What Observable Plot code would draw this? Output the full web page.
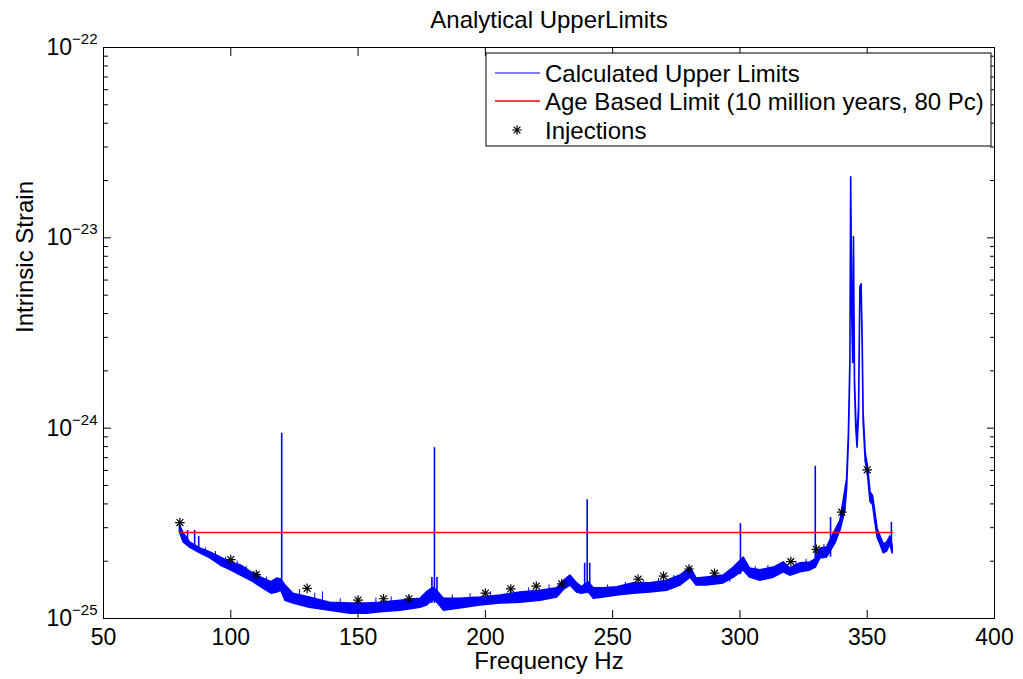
<!DOCTYPE html>
<html><head><meta charset="utf-8">
<script src="https://cdn.jsdelivr.net/npm/d3@7"></script>
<script src="https://cdn.jsdelivr.net/npm/@observablehq/plot@0.6"></script>
<style>
body{margin:0;background:#fff;}
#chart{width:1023px;height:679px;}
</style>
</head><body><div id="chart"></div>
<script>
// ---- data (strain values in units of 1e-25) ----
const UNIT = 1e-25;
const freq = [80,81.5,84,88,92,96,100,104,108,112,116,118.2,119.8,121.5,124.6,131,139,147,153.6,158.8,166.7,174.5,177,179.5,181,183.7,190,198,206,213.8,221.7,228.2,231,233.4,236,238,240.5,242.6,246.5,251.8,258.3,264.8,271.4,276.6,280.6,283,287,293.6,297.6,301.5,304,308,313.3,317.2,319.8,323.8,327.7,329.8,331.6,334.2,337.5,339.5,341.4,342.1,342.8,343.4,343.7,344.1,344.5,344.8,345.2,345.7,346.2,346.8,347.3,347.8,348.2,348.6,349.4,350.3,351.3,352.3,353.2,354.1,355.2,356.5,357.8,359.1,360];
const upperHi = [3.08,2.80,2.51,2.33,2.22,2.09,1.97,1.90,1.75,1.64,1.55,1.62,1.60,1.49,1.35,1.29,1.21,1.20,1.20,1.21,1.24,1.27,1.37,1.45,1.40,1.27,1.27,1.29,1.32,1.37,1.40,1.44,1.58,1.68,1.53,1.46,1.55,1.44,1.44,1.46,1.53,1.53,1.58,1.68,1.85,1.62,1.64,1.68,1.85,2.09,1.83,1.79,1.85,1.97,1.83,1.95,1.97,2.05,2.33,2.36,2.90,3.27,4.7,5.4,9.3,23,208,45,25,101,18,11.2,8.8,13,55,57,30,12,7.4,6.3,4.6,4.4,3.6,2.95,2.7,2.45,2.5,2.7,2.4];
const upperLo = [2.85,2.51,2.36,2.20,2.07,1.90,1.79,1.68,1.58,1.46,1.35,1.37,1.40,1.24,1.20,1.14,1.10,1.06,1.06,1.08,1.10,1.14,1.17,1.25,1.22,1.10,1.13,1.17,1.20,1.21,1.24,1.29,1.42,1.49,1.37,1.35,1.38,1.27,1.29,1.32,1.35,1.37,1.40,1.49,1.64,1.49,1.49,1.53,1.64,1.79,1.64,1.58,1.64,1.75,1.68,1.75,1.79,1.85,2.07,2.09,2.48,2.90,3.69,4.8,8.5,21,200,41,22,97,16.5,10.0,7.9,11.8,51,53,28,10.8,6.7,5.7,4.1,3.95,3.2,2.65,2.45,2.2,2.25,2.45,2.2];
// narrow line features (frequency, foot, top)
const spikeFreq = [83,85.8,87.4,120,179,180,181,239,240,241,299.5,300.2,329.6,335.6,359.5];
const spikeBase = [2.4,2.3,2.2,1.4,1.2,1.2,1.2,1.35,1.35,1.35,1.7,1.7,1.85,2.1,2.3];
const spikeTop  = [2.9,2.9,2.7,9.4,1.64,7.9,1.64,1.95,4.2,1.95,1.95,3.15,6.3,3.39,3.2];
// small noise spikes on the band
const noiseFreq = [90,94,98,102.5,106,110.5,114,127,133,136,143,150,157,163,170,187,194,202,210,217,225,248,255,262,268,274,290,296,306,311,322,326,333];
const noiseBase = [2.15,2.05,1.9,1.8,1.7,1.55,1.45,1.22,1.16,1.15,1.1,1.08,1.1,1.1,1.12,1.15,1.18,1.2,1.22,1.25,1.3,1.3,1.35,1.38,1.4,1.45,1.5,1.55,1.62,1.62,1.75,1.78,2.1];
const noiseTop  = [2.35,2.25,2.1,2.0,1.88,1.75,1.65,1.42,1.36,1.38,1.27,1.27,1.28,1.3,1.32,1.33,1.35,1.38,1.42,1.45,1.5,1.5,1.55,1.6,1.62,1.68,1.72,1.78,1.88,1.9,2.0,2.05,2.45];
// injections
const injFreq = [80,100,110,130,150,160,170,200,210,220,230,260,270,280,290,320,330,340,350];
const injStrain = [3.19,2.04,1.70,1.44,1.25,1.27,1.27,1.36,1.43,1.48,1.52,1.61,1.67,1.82,1.73,1.99,2.31,3.62,6.04];
// age based limit
const ageFreq = [80,360];
const ageStrain = [2.83,2.83];
// axes
const xTicks = [50,100,150,200,250,300,350,400];
const yDecades = [-25,-24,-23,-22];
const yMinorMult = [2,3,4,5,6,7,8,9];
const titleText = "Analytical UpperLimits";
const xLabel = "Frequency Hz";
const yLabel = "Intrinsic Strain";
const legendLabels = ["Calculated Upper Limits","Age Based Limit (10 million years, 80 Pc)","Injections"];

// ---- build tables ----
const band = freq.map((f,i)=>({f, hi: upperHi[i]*UNIT, lo: upperLo[i]*UNIT}));
const spikes = spikeFreq.map((f,i)=>({f, base: spikeBase[i]*UNIT, top: spikeTop[i]*UNIT}));
const noise = noiseFreq.map((f,i)=>({f, base: noiseBase[i]*UNIT, top: noiseTop[i]*UNIT}));
const inj = injFreq.map((f,i)=>({f, v: injStrain[i]*UNIT}));
const age = ageFreq.map((f,i)=>({f, v: ageStrain[i]*UNIT}));
const yMajor = yDecades.map(e => Math.pow(10, e));
const yMinor = yDecades.slice(0,-1).flatMap(e => yMinorMult.map(m => m*Math.pow(10,e)));

const BLUE = "#0000ff", RED = "#ff0000";
const FONT = "'Liberation Sans', Arial, Helvetica, sans-serif";

const chart = Plot.plot({
  width: 1023, height: 679,
  marginLeft: 103, marginRight: 29, marginTop: 47, marginBottom: 61,
  style: {fontFamily: FONT, fontSize: "23px", color: "#000", background: "#fff", overflow: "visible"},
  x: {domain: [50, 400]},
  y: {type: "log", domain: [1e-25, 1e-22]},
  marks: [
    Plot.areaY(band, {x: "f", y1: "lo", y2: "hi", fill: BLUE, stroke: BLUE, strokeWidth: 1.6}),
    Plot.ruleX(noise, {x: "f", y1: "base", y2: "top", stroke: BLUE, strokeWidth: 1}),
    Plot.ruleX(spikes, {x: "f", y1: "base", y2: "top", stroke: BLUE, strokeWidth: 1.6}),
    Plot.line(age, {x: "f", y: "v", stroke: RED, strokeWidth: 1.5}),
    Plot.dot(inj, {x: "f", y: "v", symbol: "plus", r: 3.2, stroke: "#000", strokeWidth: 1.2}),
    Plot.dot(inj, {x: "f", y: "v", symbol: "times", r: 3.2, stroke: "#000", strokeWidth: 1.2}),
    Plot.frame({stroke: "#000", strokeWidth: 1}),
    Plot.axisX(xTicks, {anchor: "bottom", tickSize: -8, tickPadding: 18, tickFormat: d => String(d), label: null}),
    Plot.axisX(xTicks, {anchor: "top", tickSize: -8, tickFormat: () => "", label: null}),
    Plot.axisY(yMajor, {anchor: "left", tickSize: -8, tickPadding: 14, tickFormat: d => "\u2212" + String(Math.round(-Math.log10(d))), label: null}),
    Plot.axisY(yMajor, {anchor: "right", tickSize: -8, tickFormat: () => "", label: null}),
    Plot.axisY(yMinor, {anchor: "left", tickSize: -5, tickFormat: () => "", label: null}),
    Plot.axisY(yMinor, {anchor: "right", tickSize: -5, tickFormat: () => "", label: null}),
    Plot.text([titleText], {frameAnchor: "top", lineAnchor: "middle", dy: -27, fontSize: 24, fill: "#000"}),
    Plot.text([xLabel], {frameAnchor: "bottom", lineAnchor: "middle", dy: 43, fontSize: 24, fill: "#000"}),
    Plot.text([yLabel], {frameAnchor: "left", lineAnchor: "middle", dx: -78, rotate: -90, fontSize: 24, fill: "#000"})
  ]
});

// superscript exponents on y tick labels
d3.select(chart).selectAll('g[aria-label="y-axis tick label"] text').each(function(){
  const t = d3.select(this);
  const e = t.text();
  if (!e) return;
  t.text(null);
  t.append("tspan").text("10");
  t.append("tspan").attr("dy", "-0.72em").attr("font-size", "15px").text(e);
});

// legend box
const svg = d3.select(chart);
const lg = svg.append("g").attr("font-family", FONT).attr("font-size", 24).attr("text-anchor", "start");
lg.append("rect").attr("x", 486).attr("y", 53).attr("width", 505).attr("height", 93)
  .attr("fill", "#fff").attr("stroke", "#000").attr("stroke-width", 1);
const rows = [73, 101, 130];
lg.append("line").attr("x1", 495).attr("x2", 540).attr("y1", rows[0]).attr("y2", rows[0]).attr("stroke", BLUE).attr("stroke-width", 1);
lg.append("line").attr("x1", 495).attr("x2", 540).attr("y1", rows[1]).attr("y2", rows[1]).attr("stroke", RED).attr("stroke-width", 1.5);
lg.append("path").attr("transform", `translate(517,${rows[2]})`)
  .attr("d", d3.symbol(d3.symbolPlus, 3.2*3.2*Math.PI)() + d3.symbol(d3.symbolTimes, 3.2*3.2*Math.PI)())
  .attr("fill", "none").attr("stroke", "#000").attr("stroke-width", 1.2);
legendLabels.forEach((s, i) => {
  lg.append("text").attr("x", 545).attr("y", rows[i]).attr("dy", "0.36em").attr("text-anchor", "start").attr("fill", "#000").text(s);
});

document.getElementById("chart").appendChild(chart);
</script>
</body></html>
